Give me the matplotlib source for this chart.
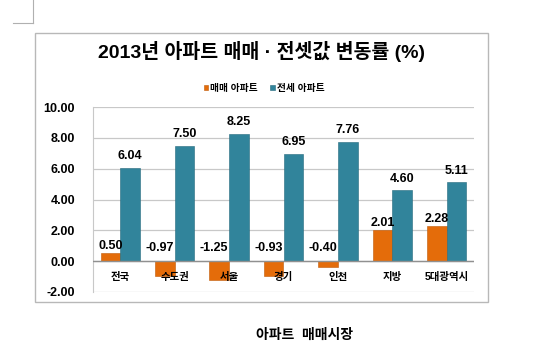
import matplotlib.pyplot as plt
import numpy as np
from matplotlib.patches import Rectangle
from matplotlib.lines import Line2D

plt.rcParams['font.family'] = ['Liberation Sans', 'Noto Sans CJK KR', 'DejaVu Sans']

regions = ['전국', '수도권', '서울', '경기', '인천', '지방', '5대광역시']
sale = [0.50, -0.97, -1.25, -0.93, -0.40, 2.01, 2.28]
jeonse = [6.04, 7.50, 8.25, 6.95, 7.76, 4.60, 5.11]
series_names = ['매매 아파트', '전세 아파트']
yticks = [-2, 0, 2, 4, 6, 8, 10]

orange = '#E46C0A'
teal = '#31849B'

fig = plt.figure(figsize=(5.5, 3.6), dpi=100)
W, H = 550, 360

# page corner mark and chart frame
fig.add_artist(Line2D([33 / W, 33 / W], [1, 1 - 23 / H], color='#b0b0b0', lw=0.8))
fig.add_artist(Line2D([13 / W, 33 / W], [1 - 23 / H, 1 - 23 / H], color='#b0b0b0', lw=0.8))
fig.add_artist(Rectangle((35 / W, 1 - 302 / H), 453 / W, 269 / H, fill=False,
                         edgecolor='#b8b8b8', lw=1.0))

ax = fig.add_axes([93 / W, 1 - 292 / H, 381 / W, 185 / H])
x = np.arange(len(regions))
w = 0.36
b1 = ax.bar(x - w / 2, sale, w, color=orange, edgecolor='#c05a08', lw=0.4,
            label=series_names[0], zorder=3)
b2 = ax.bar(x + w / 2, jeonse, w, color=teal, edgecolor='#256a7d', lw=0.4,
            label=series_names[1], zorder=3)

ax.set_xlim(-0.5, len(regions) - 0.5)
ax.set_ylim(-2, 10)
ax.set_yticks(yticks)
ax.set_yticklabels([f'{t:.2f}' for t in yticks], fontsize=9, fontweight='bold')
ax.tick_params(axis='y', length=0, pad=13)
ax.set_xticks([])
ax.grid(axis='y', color='#c8c8c8', lw=0.9, zorder=0)
ax.axhline(0, color='#909090', lw=1.0, zorder=4)
for s in ['top', 'right', 'bottom']:
    ax.spines[s].set_visible(False)
ax.spines['left'].set_color('#c8c8c8')

for i, name in enumerate(regions):
    ax.text(i, -1.0, name, ha='center', va='center', fontsize=7.5,
            fontweight='bold', zorder=5)

for xi, v in zip(x - w / 2, sale):
    ax.annotate(f'{v:.2f}', (xi - (0.1 if v < 0 else 0), max(v, 0)),
                xytext=(0, 5 if v < 0 else 1), textcoords='offset points',
                ha='center', va='bottom', fontsize=9, fontweight='bold')
for xi, v in zip(x + w / 2, jeonse):
    ax.annotate(f'{v:.2f}', (xi, v), xytext=(0, 4), textcoords='offset points',
                ha='center', va='bottom', fontsize=9, fontweight='bold')

fig.text(261 / W, 1 - 52 / H, '2013년 아파트 매매 · 전셋값 변동률 (%)', ha='center',
         va='center', fontsize=14, fontweight='bold')
fig.legend(handles=[b1, b2], loc='center', bbox_to_anchor=(264 / W, 1 - 88 / H),
           ncol=2, frameon=False, handlelength=0.5, handleheight=0.5,
           handletextpad=0.2, columnspacing=1.2, prop={'weight': 'bold', 'size': 7})

fig.text(305 / W, 1 - 335 / H, '아파트  매매시장', ha='center', va='center',
         fontsize=10, fontweight='bold')

fig.savefig('out.png', dpi=100)
